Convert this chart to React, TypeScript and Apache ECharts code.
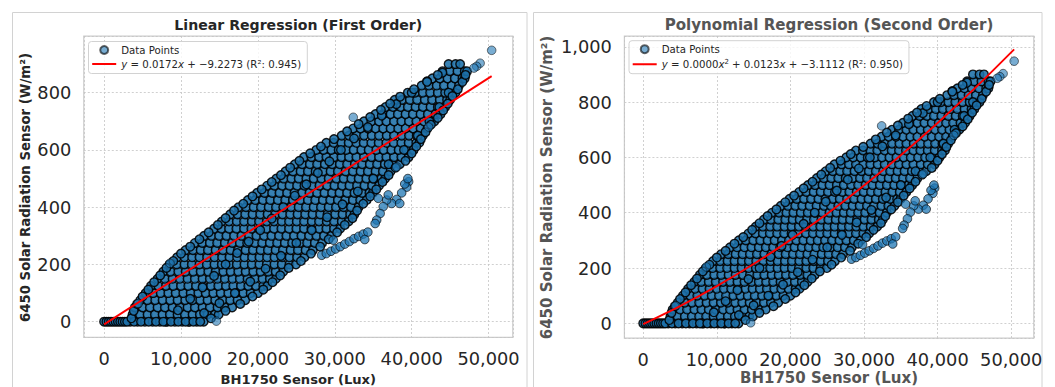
import React, { useEffect, useRef } from 'react';
import * as echarts from 'echarts';

const FONT = "'DejaVu Sans', sans-serif";

// ---- tick values ----
const xTicks = [0, 10000, 20000, 30000, 40000, 50000];
const yTicksLeft = [0, 200, 400, 600, 800];
const yTicksRight = [0, 200, 400, 600, 800, 1000];

// ---- scatter data: rows of the dense band (y value, x values) ----
const rowY = [0, 25, 50, 75, 100, 125, 150, 175, 200, 225, 250, 275, 300, 325, 350, 375, 400, 425, 450, 475, 500, 525, 550, 575, 600, 625, 650, 675, 700, 725, 750, 775, 800, 825, 850, 875, 900];
const rowX: number[][] = [
  [3400, 4350, 5300, 6300, 7250, 8200, 9200, 10150, 11100, 12050, 12950],
  [3700, 4650, 5650, 6600, 7600, 8550, 9550, 10500, 11500, 12450, 13450, 14400, 14900],
  [4000, 5000, 5950, 6950, 7900, 8900, 9850, 10850, 11800, 12800, 13750, 14750, 15700, 16650],
  [4700, 5650, 6650, 7600, 8600, 9550, 10550, 11500, 12500, 13450, 14450, 15400, 16400, 17350, 18350],
  [5400, 6400, 7350, 8350, 9300, 10300, 11250, 12250, 13200, 14200, 15150, 16150, 17100, 18100, 19050, 20000],
  [6100, 7050, 8050, 9000, 10000, 10950, 11950, 12900, 13900, 14850, 15850, 16800, 17800, 18750, 19750, 20700, 21250],
  [6950, 7900, 8900, 9850, 10850, 11800, 12800, 13750, 14750, 15700, 16700, 17650, 18650, 19600, 20600, 21550, 22350],
  [7700, 8650, 9650, 10600, 11600, 12550, 13550, 14500, 15500, 16450, 17450, 18400, 19400, 20350, 21350, 22300, 23300],
  [8500, 9450, 10450, 11400, 12400, 13350, 14350, 15300, 16300, 17250, 18250, 19200, 20200, 21150, 22150, 23100, 24100, 24950],
  [9500, 10450, 11450, 12400, 13400, 14350, 15350, 16300, 17300, 18250, 19250, 20200, 21200, 22150, 23150, 24100, 25100, 26050],
  [10600, 11550, 12550, 13500, 14500, 15450, 16450, 17400, 18400, 19350, 20350, 21300, 22300, 23250, 24250, 25200, 26200, 27150],
  [11800, 12750, 13750, 14700, 15700, 16650, 17650, 18600, 19600, 20550, 21550, 22500, 23500, 24450, 25450, 26400, 27400, 28350],
  [13000, 13950, 14950, 15900, 16900, 17850, 18850, 19800, 20800, 21750, 22750, 23700, 24700, 25650, 26650, 27600, 28600, 29550],
  [14300, 15250, 16250, 17200, 18200, 19150, 20150, 21100, 22100, 23050, 24050, 25000, 26000, 26950, 27950, 28900, 29900, 30700],
  [15300, 16250, 17250, 18200, 19200, 20150, 21150, 22100, 23100, 24050, 25050, 26000, 27000, 27950, 28950, 29900, 30900, 31800],
  [16400, 17350, 18350, 19300, 20300, 21250, 22250, 23200, 24200, 25150, 26150, 27100, 28100, 29050, 30050, 31000, 32000, 32550],
  [17500, 18450, 19450, 20400, 21400, 22350, 23350, 24300, 25300, 26250, 27250, 28200, 29200, 30150, 31150, 32100, 33100],
  [18700, 19650, 20650, 21600, 22600, 23550, 24550, 25500, 26500, 27450, 28450, 29400, 30400, 31350, 32350, 33300, 34150],
  [19900, 20850, 21850, 22800, 23800, 24750, 25750, 26700, 27700, 28650, 29650, 30600, 31600, 32550, 33550, 34500, 34950],
  [21200, 22150, 23150, 24100, 25100, 26050, 27050, 28000, 29000, 29950, 30950, 31900, 32900, 33850, 34850, 35750],
  [22400, 23350, 24350, 25300, 26300, 27250, 28250, 29200, 30200, 31150, 32150, 33100, 34100, 35050, 36050, 36550],
  [23600, 24550, 25550, 26500, 27500, 28450, 29450, 30400, 31400, 32350, 33350, 34300, 35300, 36250, 37250],
  [24800, 25750, 26750, 27700, 28700, 29650, 30650, 31600, 32600, 33550, 34550, 35500, 36500, 37450, 38450],
  [26000, 26950, 27950, 28900, 29900, 30850, 31850, 32800, 33800, 34750, 35750, 36700, 37700, 38650, 39600],
  [27600, 28550, 29550, 30500, 31500, 32450, 33450, 34400, 35400, 36350, 37350, 38300, 39300, 40250],
  [28900, 29850, 30850, 31800, 32800, 33750, 34750, 35700, 36700, 37650, 38650, 39600, 40600, 41000],
  [30900, 31850, 32850, 33800, 34800, 35750, 36750, 37700, 38700, 39650, 40650, 41450],
  [32400, 33350, 34350, 35300, 36300, 37250, 38250, 39200, 40200, 41150, 42050],
  [33800, 34750, 35750, 36700, 37700, 38650, 39650, 40600, 41600, 42550, 42950],
  [35300, 36250, 37250, 38200, 39200, 40150, 41150, 42100, 43100, 43750],
  [36600, 37550, 38550, 39500, 40500, 41450, 42450, 43400, 44350],
  [37800, 38750, 39750, 40700, 41700, 42650, 43650, 44600, 45000],
  [39500, 40450, 41450, 42400, 43400, 44350, 45350, 45700],
  [41300, 42250, 43250, 44200, 45200, 46150],
  [42700, 43650, 44650, 45600, 46600, 46900],
  [44000, 44950, 45950, 46900, 47200],
  [44800, 45700, 46300],
];

// dense run of readings at zero radiation
const zeroRun: [number, number][] = [
  [0, 0], [300, 0], [600, 0], [900, 0], [1200, 0], [1500, 0], [1800, 0], [2100, 0], [2400, 0], [2700, 0], [3000, 0],
  [3900, 0], [4800, 0], [5800, 0], [6750, 0], [7700, 0], [8700, 0], [9650, 0], [10600, 0], [11600, 0], [12500, 0],
];

// dark upper envelope of the band
const upperEdge: [number, number][] = [
  [3550, 12], [3850, 38], [4300, 62], [5000, 88], [5750, 112], [6500, 138], [7300, 162], [8100, 188], [9000, 212],
  [10000, 238], [11200, 262], [12400, 288], [13600, 312], [14800, 338], [15800, 362], [16900, 388], [18100, 412],
  [19300, 438], [20500, 462], [21800, 488], [23000, 512], [24200, 538], [25400, 562], [26800, 588], [28200, 612], [29900, 638],
  [31600, 665], [33100, 690], [34600, 715], [36000, 740], [37200, 762], [38500, 786], [40300, 812], [42000, 838], [43400, 862],
];

// dark lower envelope of the band
const lowerEdge: [number, number][] = [
  [13900, 12], [15800, 38], [17700, 62], [19300, 88], [20700, 112], [21900, 138], [22900, 162], [24000, 188],
  [25600, 212], [26900, 238], [28100, 262], [29200, 288], [30300, 312], [31300, 338], [32300, 362], [32900, 388],
  [33700, 412], [34600, 438], [35400, 462], [36200, 488], [37000, 512], [37900, 538], [39200, 562], [40000, 588],
  [40600, 612], [41200, 638], [41800, 662], [42500, 688], [43400, 712], [44100, 738], [44700, 762], [45300, 788],
  [46000, 812], [46600, 838], [47000, 862],
];

// darker streaks inside the band
const streakMid: [number, number][] = [
  [8000, 0], [9600, 40], [11200, 80], [12800, 120], [14300, 160], [15800, 200], [17300, 240], [18800, 280],
  [20300, 320], [21800, 360], [23300, 400], [24800, 440], [26300, 480], [27800, 520], [29300, 560], [30800, 600],
  [32500, 640], [34300, 680], [36100, 720], [38000, 760], [40000, 800], [42000, 840], [44000, 870],
];
const streakLow: [number, number][] = [
  [11000, 0], [13000, 30], [15000, 65], [17000, 100], [19000, 140], [21000, 185], [23000, 230], [25000, 275],
  [27000, 320], [29000, 365], [31000, 410], [33000, 455], [35000, 500], [37000, 550], [39000, 600], [40800, 650],
  [42300, 700], [43600, 750], [44800, 800],
];

// side branches below the band
const branchPoints: [number, number][] = [
  [28300, 232], [28900, 238], [29500, 246], [30100, 254], [30700, 262], [31300, 271], [31900, 280], [32500, 290],
  [33100, 298], [33700, 306], [34300, 313], [29800, 285], [33900, 287],
  [39600, 489], [39350, 470], [39100, 481], [38700, 450], [38050, 427], [37400, 413], [36750, 425], [35650, 431],
  [36300, 402], [35900, 378], [35450, 355], [35250, 343], [38450, 413], [36950, 443], [39500, 500],
];

// isolated points
const outlierPoints: [number, number][] = [
  [50400, 948], [48900, 903], [48450, 892], [48100, 886], [32400, 714], [42200, 680], [38050, 541],
  [4450, 64], [14600, 2], [8570, 204],
];

// fitted lines
const linearFit: [number, number][] = [[0, -9.2], [50400, 857.7]];
const quadFit: [number, number][] = [
  [0, -3.1], [5000, 62.1], [10000, 134.6], [15000, 214.5], [20000, 301.8], [25000, 396.4],
  [30000, 498.4], [35000, 607.7], [40000, 724.4], [45000, 848.5], [50400, 990.7],
];

const linLabel = '{i|y} = 0.0172{i|x} + −9.2273 (R²: 0.945)';
const quadLabel = '{i|y} = 0.0000{i|x}{s|2} + 0.0123{i|x} + −3.1112 (R²: 0.950)';

const bandPoints: [number, number][] = [
  ...rowY.flatMap((y, i) => rowX[i].map((x) => [x, y] as [number, number])),
  ...streakMid,
  ...streakLow,
  ...zeroRun,
  ...upperEdge,
  ...lowerEdge,
];

const scatterData: any[] = [
  ...bandPoints.map((p) => ({ value: p, itemStyle: { opacity: 0.88, borderWidth: 1.4, color: '#1c6fa9' } })),
  ...branchPoints.map((p) => ({ value: p, itemStyle: { opacity: 0.75 } })),
  ...outlierPoints,
];

const TXT = '#262626';
const GRAY = '#555555';

function makeXAxis(gridIndex: number, min: number, max: number) {
  return {
    type: 'value', gridIndex, min, max, minInterval: 10000, maxInterval: 10000,
    axisLine: { show: false }, axisTick: { show: false },
    axisLabel: {
      fontFamily: FONT, fontSize: 17.8, color: TXT, margin: 12,
      formatter: (v: number) => (xTicks.includes(v) ? v.toLocaleString('en-US') : ''),
    },
    splitLine: { show: true, lineStyle: { color: '#c4c4c4', type: [2, 2], width: 0.8 } },
  };
}
function makeYAxis(gridIndex: number, min: number, max: number, ticks: number[]) {
  return {
    type: 'value', gridIndex, min, max, minInterval: 200, maxInterval: 200,
    axisLine: { show: false }, axisTick: { show: false },
    axisLabel: {
      fontFamily: FONT, fontSize: 17.8, color: TXT, margin: 12.5,
      formatter: (v: number) => (ticks.includes(v) ? v.toLocaleString('en-US') : ''),
    },
    splitLine: { show: true, lineStyle: { color: '#c4c4c4', type: [2, 2], width: 0.8 } },
  };
}

const LINE_ICON = 'path://M0,0L24,0L24,0.02L0,0.02Z M0,3.05L24,3.05L24,4.95L0,4.95Z M0,7.98L24,7.98L24,8L0,8Z';

const legendCommon = {
  orient: 'vertical', itemWidth: 24, itemHeight: 8, itemGap: 4,
  padding: [3.5, 6, 4.5, 3.7], borderColor: '#d2d2d2', borderWidth: 1, borderRadius: 3,
  backgroundColor: 'rgba(255,255,255,0.8)', selectedMode: false,
  formatter: (name: string) => (name === 'lin' ? linLabel : name === 'quad' ? quadLabel : name),
  textStyle: {
    fontFamily: FONT, fontSize: 10.2, color: TXT,
    rich: {
      i: { fontFamily: FONT, fontSize: 10.2, fontStyle: 'italic', color: TXT },
      s: { fontFamily: FONT, fontSize: 7, color: TXT, verticalAlign: 'top', padding: [0, 0, 5, 0] },
    },
  },
};

const lineLegendItem = (name: string) => ({
  name, icon: LINE_ICON, itemStyle: { color: '#ff0000', borderWidth: 0 }, lineStyle: { width: 0 },
});

const scatterStyle = {
  type: 'scatter', name: 'Data Points', symbol: 'circle', symbolSize: 8.6, silent: true,
  itemStyle: { color: '#1f77b4', opacity: 0.6, borderColor: '#000', borderWidth: 0.9 },
  data: scatterData,
};

const option: any = {
  animation: false,
  backgroundColor: '#ffffff',
  grid: [
    { left: 83.8, top: 36, width: 429, height: 301.3, show: true, borderColor: '#cccccc', borderWidth: 1.25, backgroundColor: '#fff' },
    { left: 624.4, top: 36, width: 409.4, height: 302, show: true, borderColor: '#cccccc', borderWidth: 1.25, backgroundColor: '#fff' },
  ],
  xAxis: [makeXAxis(0, -2640, 53150), makeXAxis(1, -2554, 53070)],
  yAxis: [makeYAxis(0, -54.5, 998, yTicksLeft), makeYAxis(1, -53, 1039, yTicksRight)],
  legend: [
    { ...legendCommon, left: 88.5, top: 41.5, data: [{ name: 'Data Points', icon: 'circle' }, lineLegendItem('lin')] },
    { ...legendCommon, left: 629, top: 40.7, data: [{ name: 'Data Points', icon: 'circle' }, lineLegendItem('quad')] },
  ],
  series: [
    { ...scatterStyle, xAxisIndex: 0, yAxisIndex: 0 },
    {
      type: 'line', name: 'lin', xAxisIndex: 0, yAxisIndex: 0, data: linearFit, symbol: 'none', showSymbol: false,
      lineStyle: { color: '#ff0000', width: 1.9 }, itemStyle: { color: '#ff0000' }, silent: true, z: 5,
    },
    { ...scatterStyle, xAxisIndex: 1, yAxisIndex: 1 },
    {
      type: 'line', name: 'quad', xAxisIndex: 1, yAxisIndex: 1, data: quadFit, symbol: 'none', showSymbol: false, smooth: 0.3,
      lineStyle: { color: '#ff0000', width: 1.9 }, itemStyle: { color: '#ff0000' }, silent: true, z: 5,
    },
  ],
  graphic: [
    { type: 'rect', silent: true, z: -10, shape: { x: 12.5, y: 12.5, width: 514.5, height: 400 }, style: { fill: 'none', stroke: '#d2d2d2', lineWidth: 1 } },
    { type: 'rect', silent: true, z: -10, shape: { x: 533.5, y: 12.5, width: 508.5, height: 400 }, style: { fill: 'none', stroke: '#d2d2d2', lineWidth: 1 } },
    { type: 'text', silent: true, x: 298.3, y: 25.4, style: { text: 'Linear Regression (First Order)', font: `bold 14.1px ${FONT}`, fill: TXT, textAlign: 'center', textVerticalAlign: 'middle' } },
    { type: 'text', silent: true, x: 829, y: 25.1, style: { text: 'Polynomial Regression (Second Order)', font: `bold 15.1px ${FONT}`, fill: GRAY, textAlign: 'center', textVerticalAlign: 'middle' } },
    { type: 'text', silent: true, x: 298.3, y: 379.7, style: { text: 'BH1750 Sensor (Lux)', font: `bold 13.1px ${FONT}`, fill: TXT, textAlign: 'center', textVerticalAlign: 'middle' } },
    { type: 'text', silent: true, x: 829, y: 377.8, style: { text: 'BH1750 Sensor (Lux)', font: `bold 15px ${FONT}`, fill: GRAY, textAlign: 'center', textVerticalAlign: 'middle' } },
    { type: 'text', silent: true, x: 25.8, y: 187.5, rotation: Math.PI / 2, style: { text: '6450 Solar Radiation Sensor (W/m²)', font: `bold 13.3px ${FONT}`, fill: TXT, textAlign: 'center', textVerticalAlign: 'middle' } },
    { type: 'text', silent: true, x: 547, y: 187.5, rotation: Math.PI / 2, style: { text: '6450 Solar Radiation Sensor (W/m²)', font: `bold 15px ${FONT}`, fill: GRAY, textAlign: 'center', textVerticalAlign: 'middle' } },
  ],
};

export default function App() {
  const ref = useRef<HTMLDivElement>(null);
  useEffect(() => {
    if (!ref.current) return;
    const chart = echarts.init(ref.current, null, { renderer: 'svg' });
    chart.setOption(option);
    return () => chart.dispose();
  }, []);
  return (
    <div
      ref={ref}
      style={{ position: 'fixed', left: 0, top: 0, width: 1055, height: 387, background: '#fff' }}
    />
  );
}
